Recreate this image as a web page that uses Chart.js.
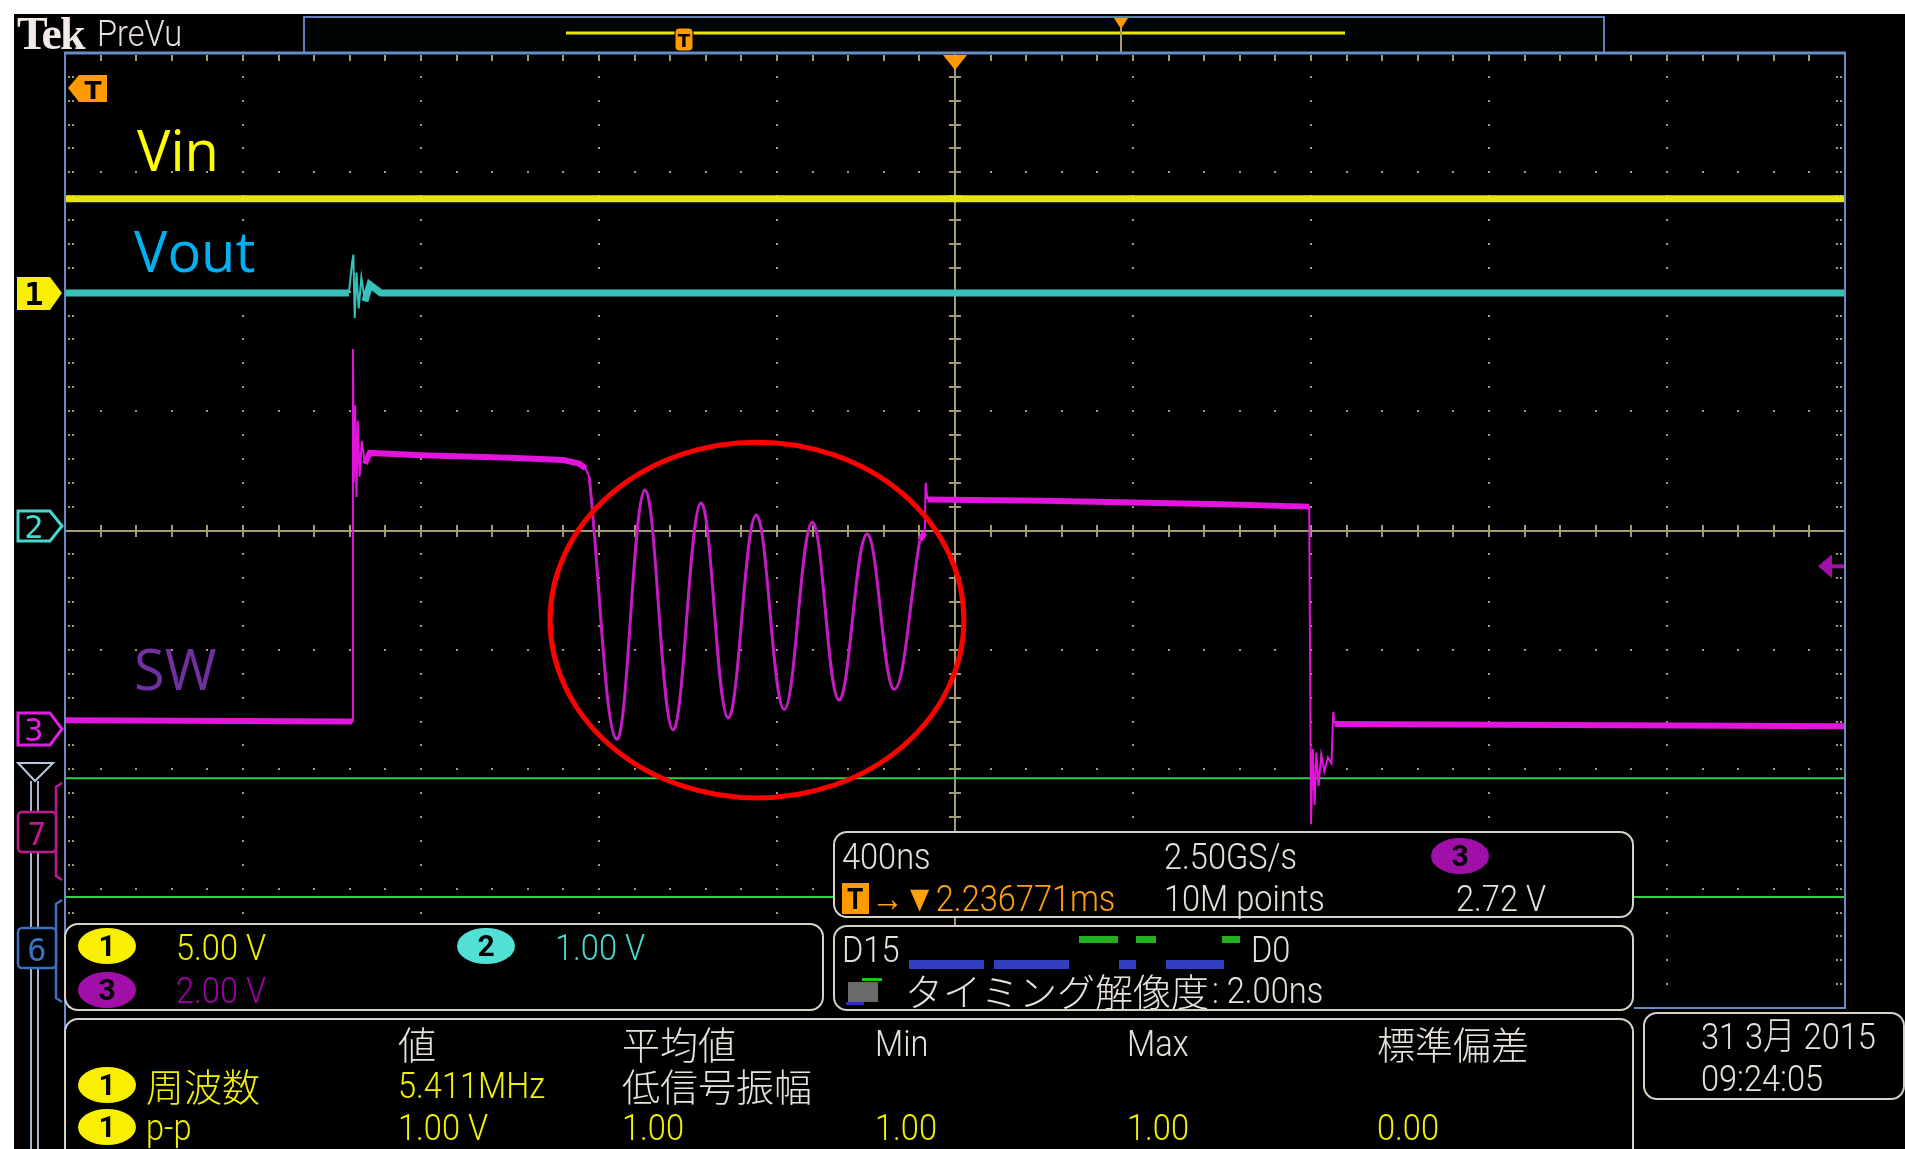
<!DOCTYPE html>
<html>
<head>
<meta charset="utf-8">
<script src="https://cdn.jsdelivr.net/npm/chart.js@4.4.1/dist/chart.umd.min.js"></script>
<style>
  body { margin: 0; width: 1905px; height: 1149px; overflow: hidden; background: #fff; position: relative; }
  #bg { position: absolute; left: 14px; top: 14px; right: 0; bottom: 0; background: #000; }
  #plot { position: absolute; left: 65px; top: 53px; width: 1780px; height: 955px; }
  #deco { position: absolute; left: 0; top: 0; }
  .box { position: absolute; box-sizing: border-box; border: 2px solid #d6d2c6; border-radius: 14px; background: #000; }
  .t { position: absolute; line-height: 1; white-space: nowrap; transform: translateY(-50%); font-weight: 300; }
  .n { transform: translateY(-50%) scaleX(0.88); transform-origin: left center; }
  .lbl { position: absolute; line-height: 1; white-space: nowrap; font-family: 'Open Sans', 'Noto Sans', sans-serif; font-size: 56px; }
  .badge { position: absolute; width: 58px; height: 36px; border-radius: 50%; color: #000; text-align: center;
           line-height: 36px; font-size: 30px; font-family: 'Roboto', sans-serif; font-weight: bold; }
</style>
</head>
<body>
<div id="bg"></div>
<canvas id="plot" width="1780" height="955"></canvas>
<svg id="deco" width="1905" height="1149">
  <!-- PreVu window -->
  <rect x="304" y="17" width="1300" height="36" fill="#000402" stroke="#5f80b8" stroke-width="2"/>
  <line x1="566" y1="33" x2="1345" y2="33" stroke="#e8e800" stroke-width="3"/>
  <rect x="675" y="28" width="18" height="23" rx="4" fill="#ff9a00" stroke="#000" stroke-width="1"/>
  <text x="684" y="47" fill="#000" font-family="DejaVu Sans" font-weight="bold" font-size="18" text-anchor="middle">T</text>
  <line x1="1121" y1="20" x2="1121" y2="52" stroke="#a89c78" stroke-width="2"/>
  <polygon points="1114,18 1128,18 1121,29" fill="#ff9a00"/>
  <!-- plot frame -->
  <line x1="64" y1="53" x2="1846" y2="53" stroke="#6a8cc4" stroke-width="3"/>
  <line x1="65" y1="53" x2="65" y2="1149" stroke="#6a8cc4" stroke-width="2"/>
  <line x1="1845" y1="53" x2="1845" y2="1009" stroke="#6a8cc4" stroke-width="2"/>
  <line x1="1634" y1="1008" x2="1846" y2="1008" stroke="#6a8cc4" stroke-width="2"/>
  <!-- trigger position marker -->
  <polygon points="68,88 79,75 107,75 107,102 79,102" fill="#ff9a00"/>
  <text x="93" y="99" fill="#000" font-family="DejaVu Sans" font-weight="bold" font-size="25" text-anchor="middle">T</text>
  <!-- channel markers -->
  <polygon points="17,277 50,277 62,293 50,310 17,310" fill="#f8f000"/>
  <text x="34" y="305" fill="#000" font-family="DejaVu Sans Mono" font-weight="bold" font-size="32" text-anchor="middle">1</text>
  <polygon points="18,511 50,511 62,526 50,541 18,541" fill="#000" stroke="#48d8d0" stroke-width="3"/>
  <text x="34" y="538" fill="#48d8d0" font-family="DejaVu Sans Mono" font-size="32" text-anchor="middle">2</text>
  <polygon points="18,713 50,713 62,729 50,745 18,745" fill="#000" stroke="#e020e0" stroke-width="3"/>
  <text x="34" y="741" fill="#e020e0" font-family="DejaVu Sans Mono" font-size="32" text-anchor="middle">3</text>
  <polygon points="18,763 53,763 35,781" fill="none" stroke="#b8c4e0" stroke-width="2"/>
  <line x1="31" y1="781" x2="31" y2="1149" stroke="#a8b4d0" stroke-width="2"/>
  <line x1="38" y1="781" x2="38" y2="1149" stroke="#a8b4d0" stroke-width="2"/>
  <path d="M62,783 L56,787 L56,876 L62,880" fill="none" stroke="#c01890" stroke-width="2.5"/>
  <rect x="18" y="812" width="38" height="40" rx="4" fill="#000" stroke="#c01890" stroke-width="2.5"/>
  <text x="37" y="845" fill="#c01890" font-family="DejaVu Sans Mono" font-size="32" text-anchor="middle">7</text>
  <path d="M62,900 L56,904 L56,998 L62,1002" fill="none" stroke="#3c70c0" stroke-width="2.5"/>
  <rect x="18" y="928" width="38" height="40" rx="4" fill="#000" stroke="#3c70c0" stroke-width="2.5"/>
  <text x="37" y="961" fill="#3c70c0" font-family="DejaVu Sans Mono" font-size="32" text-anchor="middle">6</text>
  <!-- trigger slope symbol -->
  <path d="M1512,872 L1522,872 L1532,846 L1542,846" fill="none" stroke="#e6e2da" stroke-width="2.5"/>
</svg>

<div class="box" style="left:64px;top:923px;width:760px;height:88px"></div>
<div class="box" style="left:833px;top:831px;width:801px;height:87px"></div>
<div class="box" style="left:833px;top:925px;width:801px;height:86px"></div>
<div class="box" style="left:64px;top:1018px;width:1570px;height:170px"></div>
<div class="box" style="left:1643px;top:1012px;width:262px;height:88px"></div>

<div class="lbl" style="left:137px;top:121px;color:#ffff00">Vin</div>
<div class="lbl" style="left:134px;top:222px;color:#00b0f0">Vout</div>
<div class="lbl" style="left:134px;top:640px;color:#7030a0">SW</div>

<script>
// time axis: 400 ns/div, 10 div, trigger at centre; vertical: 8 div
const timeMin = -2000
const timeMax = 2000
const timeDiv = 400
const divMin = -4
const divMax = 4

// traces, time in ns from trigger, level in screen divisions
const vinT = [-2000, 2000]
const vinV = [2.78, 2.78]

const voutT = [-2000, -1362, -1355, -1352, -1349, -1345, -1340, -1334, -1326, -1315, -1290, 2000]
const voutV = [1.99, 1.99, 2.24, 2.31, 1.78, 2.16, 1.86, 2.12, 1.92, 2.06, 1.99, 1.99]

const swAT = [-2000, -1355, -1353, -1351, -1348, -1345, -1342, -1338, -1333, -1326, -1315, -1200, -1000, -880, -845, -830, -822]
const swAV = [-1.59, -1.60, 1.52, 0.40, 1.05, 0.28, 0.92, 0.45, 0.75, 0.56, 0.65, 0.63, 0.61, 0.59, 0.56, 0.52, 0.45]

const ringT = [-822, -760, -697, -634, -571, -510, -447, -384, -321, -261, -198, -137, -79]
const ringV = [0.45, -1.75, 0.34, -1.67, 0.23, -1.57, 0.13, -1.50, 0.07, -1.42, -0.03, -1.33, -0.08]

const swBT = [-79, -68, -66, -62, 200, 600, 796, 800, 804, 808, 812, 817, 823, 830, 838, 846, 850, 853, 2000]
const swBV = [-0.08, -0.02, 0.40, 0.26, 0.25, 0.22, 0.20, -2.46, -1.83, -2.30, -1.86, -2.14, -1.88, -2.02, -1.90, -1.95, -1.52, -1.62, -1.64]

const digT = [-2000, 2000]
const dig1V = [-2.075, -2.075]
const dig2V = [-3.07, -3.07]

const trigLevel = -0.30
// red ellipse drawn round the ringing
const ringMarkT = -445
const ringMarkV = -0.75
const ringMarkRT = 465
const ringMarkRV = 1.49

const gridColor = '#a49c74'

const trace = (label, ts, vs, color, w) => ({
  label: label,
  data: ts.map((t, i) => ({x: t, y: vs[i]})),
  borderColor: color,
  borderWidth: w,
  pointRadius: 0,
  tension: 0,
  fill: false,
  segment: {
    borderWidth: c => Math.abs(c.p1.x - c.p0.x) < 4 ? 2 : w
  }
})

const scopeGrid = {
  id: 'scopeGrid',
  beforeDatasetsDraw(chart) {
    const {ctx, chartArea: a, scales: {x, y}} = chart
    const subT = timeDiv / 5
    const nT = (timeMax - timeMin) / subT
    const nV = (divMax - divMin) * 5
    ctx.save()
    ctx.fillStyle = gridColor
    // dotted division lines
    for (let t = timeMin + timeDiv; t < timeMax; t += timeDiv) {
      if (t === 0) continue
      const px = Math.round(x.getPixelForValue(t))
      for (let i = 0; i <= nV; i++) {
        ctx.fillRect(px - 1, Math.round(y.getPixelForValue(divMin + i * 0.2)) - 1, 2, 2)
      }
    }
    for (let v = divMin + 1; v < divMax; v++) {
      if (v === 0) continue
      const py = Math.round(y.getPixelForValue(v))
      for (let i = 0; i <= nT; i++) {
        ctx.fillRect(Math.round(x.getPixelForValue(timeMin + i * subT)) - 1, py - 1, 2, 2)
      }
    }
    // centre cross with minor ticks
    const cx = Math.round(x.getPixelForValue(0))
    const cy = Math.round(y.getPixelForValue(0))
    ctx.fillRect(cx - 1, a.top, 2, a.bottom - a.top)
    ctx.fillRect(a.left, cy - 1, a.right - a.left, 2)
    for (let i = 0; i <= nT; i++) {
      const px = Math.round(x.getPixelForValue(timeMin + i * subT))
      ctx.fillRect(px - 1, cy - 6, 2, 12)
      ctx.fillRect(px - 1, a.top + 2, 2, 6)
    }
    for (let i = 0; i <= nV; i++) {
      const py = Math.round(y.getPixelForValue(divMin + i * 0.2))
      ctx.fillRect(cx - 6, py - 1, 12, 2)
      ctx.fillRect(a.left + 3, py - 1, 2, 2)
      ctx.fillRect(a.left + 7, py - 1, 2, 2)
      ctx.fillRect(a.right - 5, py - 1, 2, 2)
      ctx.fillRect(a.right - 9, py - 1, 2, 2)
    }
    ctx.restore()
  },
  afterDatasetsDraw(chart) {
    const {ctx, chartArea: a, scales: {x, y}} = chart
    ctx.save()
    // annotation ellipse
    const ex = x.getPixelForValue(ringMarkT)
    const ey = y.getPixelForValue(ringMarkV)
    const rx = x.getPixelForValue(ringMarkT + ringMarkRT) - ex
    const ry = ey - y.getPixelForValue(ringMarkV + ringMarkRV)
    ctx.strokeStyle = '#ff0000'
    ctx.lineWidth = 5
    ctx.beginPath()
    ctx.ellipse(ex, ey, rx, ry, 0, 0, Math.PI * 2)
    ctx.stroke()
    // trigger time marker
    const cx = x.getPixelForValue(0)
    ctx.fillStyle = '#ff9a00'
    ctx.beginPath()
    ctx.moveTo(cx - 12, a.top + 2)
    ctx.lineTo(cx + 12, a.top + 2)
    ctx.lineTo(cx, a.top + 17)
    ctx.closePath()
    ctx.fill()
    // trigger level marker
    const ty = y.getPixelForValue(trigLevel)
    ctx.fillStyle = '#a010a8'
    ctx.beginPath()
    ctx.moveTo(a.right - 27, ty)
    ctx.lineTo(a.right - 13, ty - 12)
    ctx.lineTo(a.right - 13, ty + 12)
    ctx.closePath()
    ctx.fill()
    ctx.fillRect(a.right - 14, ty - 2, 14, 4)
    ctx.restore()
  }
}

new Chart(document.getElementById('plot'), {
  type: 'line',
  data: {
    datasets: [
      trace('Vin', vinT, vinV, '#e6e60e', 7),
      trace('Vout', voutT, voutV, '#36c2ba', 7),
      trace('SW', swAT, swAV, '#e214de', 6),
      Object.assign(trace('SW', ringT, ringV, '#c41cc2', 3), {tension: 0.4}),
      trace('SW', swBT, swBV, '#e214de', 6),
      trace('D', digT, dig1V, '#2ed04c', 2),
      trace('D', digT, dig2V, '#2ed04c', 2)
    ]
  },
  options: {
    responsive: false,
    animation: false,
    devicePixelRatio: 1,
    events: [],
    layout: {padding: 0},
    scales: {
      x: {type: 'linear', min: timeMin, max: timeMax, display: false},
      y: {min: divMin, max: divMax, display: false}
    },
    plugins: {legend: {display: false}, tooltip: {enabled: false}}
  },
  plugins: [scopeGrid]
})

// readouts
const NARROW = "'Roboto', 'Liberation Sans', sans-serif"
const CJK = "'Noto Sans CJK JP', sans-serif"
const WHITE = '#e6e2da'
const YEL = '#f2f200'

const put = (s, x, yc, color, size, fam) => {
  const d = document.createElement('div')
  d.className = fam === CJK ? 't' : 't n'
  d.textContent = s
  d.style.left = x + 'px'
  d.style.top = yc + 'px'
  d.style.color = color
  d.style.fontSize = size + 'px'
  d.style.fontFamily = fam
  document.body.appendChild(d)
  return d
}
const badge = (n, cx, cy, fill) => {
  const d = document.createElement('div')
  d.className = 'badge'
  d.textContent = n
  d.style.left = (cx - 29) + 'px'
  d.style.top = (cy - 18) + 'px'
  d.style.background = fill
  document.body.appendChild(d)
}
const bar = (x, y, w, h, color) => {
  const d = document.createElement('div')
  d.style.position = 'absolute'
  d.style.left = x + 'px'
  d.style.top = y + 'px'
  d.style.width = w + 'px'
  d.style.height = h + 'px'
  d.style.background = color
  document.body.appendChild(d)
}

// header
let tek = put('Tek', 17, 34, '#f2eae6', 46, "'Liberation Serif', 'DejaVu Serif', serif")
tek.style.fontWeight = 'bold'
tek.style.letterSpacing = '-2px'
tek.className = 't'
put('PreVu', 97, 33, '#e8e0dc', 37, NARROW)

// channel scales
badge('1', 107, 946, '#f8f000')
put('5.00 V', 176, 947, YEL, 37, NARROW)
badge('2', 486, 946, '#50e0d4')
put('1.00 V', 555, 947, '#48d8d0', 37, NARROW)
badge('3', 107, 990, '#a010a8')
put('2.00 V', 176, 990, '#a000a8', 37, NARROW)

// timebase / trigger
put('400ns', 842, 856, WHITE, 37, NARROW)
put('2.50GS/s', 1164, 856, WHITE, 37, NARROW)
badge('3', 1460, 856, '#a010a8')
bar(842, 883, 27, 31, '#ff9a00')
put('T', 847, 899, '#000', 30, NARROW).style.fontWeight = 'bold'
put('\u2192\u25BC2.236771ms', 871, 898, '#ffa010', 37, NARROW)
put('10M points', 1164, 898, WHITE, 37, NARROW)
put('2.72 V', 1456, 898, WHITE, 37, NARROW)

// digital channels
put('D15', 842, 949, WHITE, 37, NARROW)
const busBlue = [[909, 75], [994, 75], [1119, 17], [1166, 58]]
busBlue.forEach(b => bar(b[0], 960, b[1], 9, '#3040c0'))
const busGreen = [[1079, 39], [1136, 20], [1222, 18]]
busGreen.forEach(b => bar(b[0], 936, b[1], 7, '#20b020'))
put('D0', 1251, 949, WHITE, 37, NARROW)
bar(848, 982, 30, 20, '#6a6a6a')
bar(862, 978, 20, 3, '#20c020')
bar(846, 1002, 18, 3, '#3030b0')
put('タイミング解像度', 905, 990, WHITE, 38, CJK)
put(': 2.00ns', 1212, 990, WHITE, 37, NARROW)

// measurements
put('値', 398, 1043, WHITE, 38, CJK)
put('平均値', 622, 1043, WHITE, 38, CJK)
put('Min', 875, 1043, WHITE, 37, NARROW)
put('Max', 1127, 1043, WHITE, 37, NARROW)
put('標準偏差', 1377, 1043, WHITE, 38, CJK)
badge('1', 107, 1085, '#f8f000')
put('周波数', 146, 1085, YEL, 38, CJK)
put('5.411MHz', 398, 1085, YEL, 37, NARROW)
put('低信号振幅', 622, 1085, WHITE, 38, CJK)
badge('1', 107, 1127, '#f8f000')
put('p-p', 146, 1127, YEL, 37, NARROW)
put('1.00 V', 398, 1127, YEL, 37, NARROW)
put('1.00', 622, 1127, YEL, 37, NARROW)
put('1.00', 875, 1127, YEL, 37, NARROW)
put('1.00', 1127, 1127, YEL, 37, NARROW)
put('0.00', 1377, 1127, YEL, 37, NARROW)

// date
put('31 3月 2015', 1701, 1036, WHITE, 37, NARROW + ", " + CJK)
put('09:24:05', 1701, 1078, WHITE, 37, NARROW)
</script>
</body>
</html>
